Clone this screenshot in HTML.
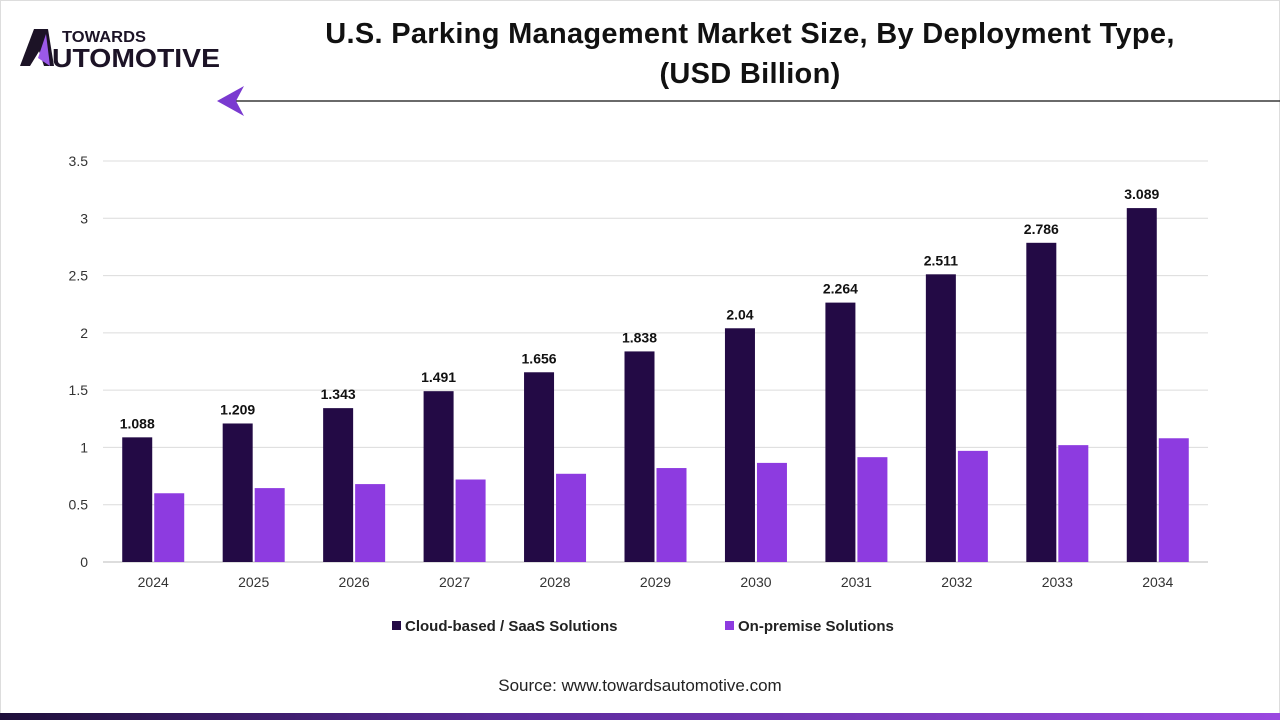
<!DOCTYPE html>
<html><head><meta charset="utf-8"><style>
html,body{margin:0;padding:0;background:#fff;}
body{width:1280px;height:720px;position:relative;overflow:hidden;font-family:"Liberation Sans",sans-serif;}
.abs{position:absolute;}
</style></head><body>
<div class="abs" style="left:0;top:0;width:1278px;height:718px;border:1px solid #ddd;"></div>
<div class="abs" style="left:20px;top:26px;width:210px;height:44px;">
 <svg width="210" height="44">
  <polygon points="14,3 28,3 26,14 10,40 0,40" fill="#1c1326"/>
  <polygon points="28,3 34,40 24,40 18,22" fill="#1c1326"/>
  <polygon points="26,8 30,40 18,32" fill="#9b59e8"/>
  <text x="42" y="16" font-family="Liberation Sans" font-weight="bold" font-size="16" fill="#1c1326" textLength="84" lengthAdjust="spacingAndGlyphs">TOWARDS</text>
  <text x="32" y="41" font-family="Liberation Sans" font-weight="bold" font-size="26" fill="#1c1326" textLength="168" lengthAdjust="spacingAndGlyphs">UTOMOTIVE</text>
 </svg>
</div>
<div class="abs" style="left:250px;top:14px;width:1000px;text-align:center;font-weight:bold;font-size:29px;line-height:40px;color:#111;letter-spacing:0.3px;">U.S. Parking Management Market Size, By Deployment Type,<br>(USD Billion)</div>
<svg class="abs" style="left:0;top:0" width="1280" height="130">
 <line x1="236" y1="101" x2="1280" y2="101" stroke="#111" stroke-width="1.3"/>
 <polygon points="217,101 244,86 236,101 244,116" fill="#7a3ad0"/>
</svg>
<svg id="chart" class="abs" style="left:0;top:0" width="1280" height="720"></svg>
<div class="abs" style="left:0;top:676px;width:1280px;text-align:center;font-size:17px;color:#222;">Source: www.towardsautomotive.com</div>
<div class="abs" style="left:0;top:713px;width:1280px;height:7px;background:linear-gradient(90deg,#1e0f3a,#5a2a9a 40%,#9a48e0);"></div>
<script>
const categories=["2024","2025","2026","2027","2028","2029","2030","2031","2032","2033","2034"];
const cloudValues=[1.088,1.209,1.343,1.491,1.656,1.838,2.04,2.264,2.511,2.786,3.089];
const premValues=[0.60,0.645,0.68,0.72,0.77,0.82,0.865,0.915,0.97,1.02,1.08];
const yTicks=[0,0.5,1,1.5,2,2.5,3,3.5];
const seriesNames=["Cloud-based / SaaS Solutions","On-premise Solutions"];
const colors=["#230a45","#8d3be0"];
const NS="http://www.w3.org/2000/svg";
const svg=document.getElementById('chart');
const L=103,R=1208,Y0=562,YT=161,YMAX=3.5;
const y=v=>Y0-(v/YMAX)*(Y0-YT);
const step=(R-L)/categories.length;
const xc=i=>L+step*(i+0.5);
function mk(t,a){const e=document.createElementNS(NS,t);for(const k in a)e.setAttribute(k,a[k]);svg.appendChild(e);return e;}
yTicks.forEach(t=>{
 const g=mk('line',{x1:L,x2:R,y1:y(t),y2:y(t),stroke:t===0?'#bbb':'#dcdcdc','stroke-width':1});
 
 
 const tx=mk('text',{x:88,y:y(t)+5,'text-anchor':'end','font-size':14,fill:'#333','font-family':'Liberation Sans'});
 tx.textContent=String(t);
 
 
});
const bw=30;
categories.forEach((c,i)=>{
 const cx=xc(i);
 const b1=mk('rect',{x:cx-bw-1,y:y(cloudValues[i]),width:bw,height:Y0-y(cloudValues[i]),fill:colors[0]});
 
 
 const b2=mk('rect',{x:cx+1,y:y(premValues[i]),width:bw,height:Y0-y(premValues[i]),fill:colors[1]});
 
 
 const lb=mk('text',{x:cx-bw/2-1,y:y(cloudValues[i])-9,'text-anchor':'middle','font-size':14,'font-weight':'bold',fill:'#111','font-family':'Liberation Sans'});
 lb.textContent=String(cloudValues[i]);
 
 
 const xl=mk('text',{x:cx,y:Y0+25,'text-anchor':'middle','font-size':14,fill:'#333','font-family':'Liberation Sans'});
 xl.textContent=c;
 
 
});
const legX=[392,725];
seriesNames.forEach((n,i)=>{
 const s=mk('rect',{x:legX[i],y:621,width:9,height:9,fill:colors[i]});
 
 
 const t=mk('text',{x:legX[i]+13,y:631,'font-size':15,'font-weight':'bold',fill:'#222','font-family':'Liberation Sans'});
 t.textContent=n;
 
 
});
</script>
</body></html>
